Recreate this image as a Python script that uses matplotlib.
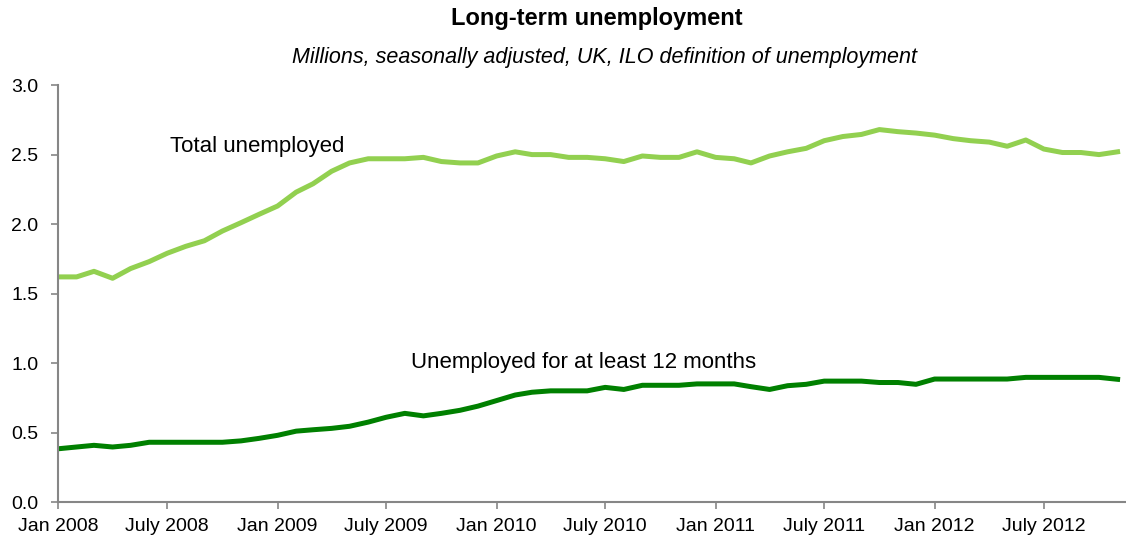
import matplotlib
matplotlib.use("Agg")
import matplotlib.pyplot as plt
import pandas as pd

plt.rcParams['font.family'] = ['Liberation Sans', 'DejaVu Sans']

# monthly, Jan 2008 - Nov 2012 (millions)
months = pd.date_range("2008-01-01", "2012-11-01", freq="MS")

total_unemployed = [1.62, 1.62, 1.66, 1.61, 1.68, 1.73, 1.79, 1.84, 1.88, 1.95,
                    2.01, 2.07, 2.13, 2.23, 2.29, 2.38, 2.44, 2.47, 2.47,
                    2.47, 2.48, 2.45, 2.44, 2.44, 2.49, 2.52, 2.50, 2.50, 2.48,
                    2.48, 2.47, 2.45, 2.49, 2.48, 2.48, 2.52, 2.48, 2.47, 2.44,
                    2.49, 2.52, 2.545, 2.60, 2.63, 2.645, 2.68, 2.665, 2.655, 2.64,
                    2.615, 2.60, 2.59, 2.56, 2.605, 2.54, 2.515, 2.515, 2.50, 2.52]

long_term = [0.383, 0.396, 0.408, 0.396, 0.408, 0.43, 0.43, 0.43, 0.43, 0.43,
             0.44, 0.458, 0.48, 0.51, 0.52, 0.53, 0.545, 0.575, 0.61,
             0.638, 0.62, 0.638, 0.66, 0.69, 0.73, 0.77, 0.79, 0.80, 0.80,
             0.80, 0.825, 0.81, 0.84, 0.84, 0.84, 0.85, 0.85, 0.85, 0.83, 0.81,
             0.837, 0.847, 0.87, 0.87, 0.87, 0.86, 0.86, 0.847, 0.885, 0.885,
             0.885, 0.885, 0.885, 0.897, 0.897, 0.897, 0.897, 0.897, 0.883]

tick_dates = pd.date_range("2008-01-01", "2012-07-01", freq="6MS")
tick_labels = [d.strftime("%b %Y").replace("Jul", "July") for d in tick_dates]

fig = plt.figure(figsize=(11.26, 5.39), dpi=100)
ax = fig.add_axes([0.0515, 0.0686, 0.9485, 0.7735])

ax.plot(months, total_unemployed, color="#92D050", lw=3.6)
ax.plot(months, long_term, color="#008000", lw=3.6)

ax.set_xlim(pd.Timestamp("2008-01-01"), pd.Timestamp("2012-11-15"))
ax.set_ylim(0, 3.0)
ax.set_yticks([0, 0.5, 1.0, 1.5, 2.0, 2.5, 3.0])
ax.yaxis.set_major_formatter(matplotlib.ticker.FormatStrFormatter("%.1f"))
ax.set_xticks(tick_dates)
ax.set_xticklabels(tick_labels)

for s in ["top", "right"]:
    ax.spines[s].set_visible(False)
for s in ["left", "bottom"]:
    ax.spines[s].set_color("#868686")
    ax.spines[s].set_linewidth(1.5)
ax.tick_params(axis="both", colors="#868686", labelcolor="black",
               labelsize=14, length=5, width=1.2, direction="out")
ax.tick_params(axis="y", pad=9)
ax.tick_params(axis="x", pad=6.5)

ax.text(pd.Timestamp("2008-07-05"), 2.56, "Total unemployed", fontsize=16, ha="left", va="center")
ax.text(pd.Timestamp("2009-08-12"), 1.005, "Unemployed for at least 12 months", fontsize=16,
        ha="left", va="center")

fig.text(0.53, 0.965, "Long-term unemployment", fontsize=17, fontweight="bold", ha="center", va="center")
fig.text(0.537, 0.893, "Millions, seasonally adjusted, UK, ILO definition of unemployment",
         fontsize=15.5, style="italic", ha="center", va="center")

fig.savefig("out.png", dpi=100)
